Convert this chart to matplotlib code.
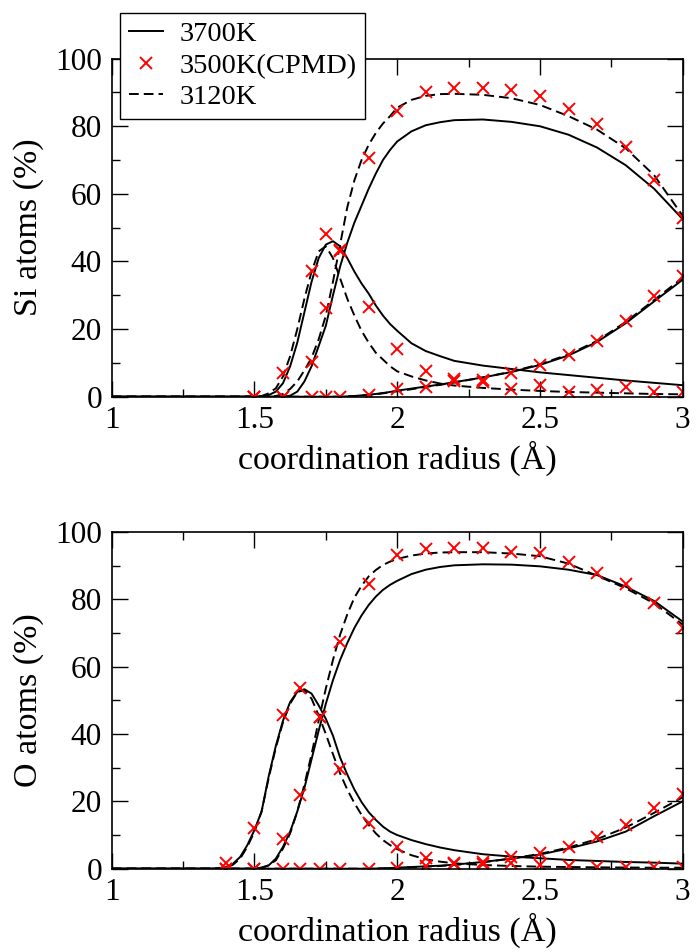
import matplotlib
matplotlib.use("Agg")
import matplotlib.pyplot as plt
from matplotlib.ticker import MultipleLocator

plt.rcParams['font.family'] = ['Liberation Serif', 'DejaVu Serif']

# ---- curves (coordination fractions, %) ----
# Si panel
r_si = [1.0, 1.45, 1.5, 1.525, 1.55, 1.575, 1.6, 1.625, 1.65, 1.675, 1.7, 1.725,
        1.75, 1.775, 1.8, 1.825, 1.85, 1.875, 1.9, 1.925, 1.95, 1.975, 2.0, 2.05,
        2.1, 2.15, 2.2, 2.3, 2.4, 2.5, 2.6, 2.7, 2.8, 2.9, 3.0]

si3_3700 = [0, 0, 0, 0.1, 0.5, 1.5, 4, 9, 16, 25, 34, 41,
            45, 46, 44.5, 41, 37, 33.5, 30.5, 27, 24, 21.5, 19.5, 15.8,
            13.5, 12, 10.6, 9.2, 8.2, 7.2, 6.4, 5.6, 4.8, 4.1, 3.4]
si4_3700 = [0, 0, 0, 0, 0, 0, 0, 0.3, 1.5, 4.5, 9, 15,
            21, 30, 38.5, 45.5, 51.5, 56.5, 61.5, 66, 70, 73, 75.5, 78.5,
            80.3, 81.2, 81.8, 82, 81.3, 80, 77.5, 73.7, 68.5, 61.5, 52.5]
si5_3700 = [0, 0, 0, 0, 0, 0, 0, 0, 0, 0, 0, 0,
            0, 0, 0, 0.1, 0.2, 0.4, 0.6, 0.8, 1.1, 1.4, 1.8, 2.4,
            3.0, 3.6, 4.3, 5.7, 7.3, 9.4, 12.2, 16.2, 21.7, 28.2, 34.6]

si3_3120 = [0, 0, 0, 0.2, 1, 2.5, 6, 12, 20, 29, 37, 43,
            44.5, 41, 35, 29, 24, 19.5, 16, 13, 11, 9, 7.5, 6.0,
            4.8, 3.9, 3.3, 2.6, 2.1, 1.7, 1.4, 1.2, 1.0, 0.8, 0.7]
si4_3120 = [0, 0, 0, 0, 0, 0.2, 0.8, 2.3, 4.5, 7.8, 11.5, 17,
            24, 34, 45, 56, 64, 70, 74.5, 78, 80.8, 83, 85.5, 87.8,
            89, 89.5, 89.6, 89.3, 88.3, 86.3, 83, 79, 73.5, 65.5, 53.5]
si5_3120 = [0, 0, 0, 0, 0, 0, 0, 0, 0, 0, 0, 0,
            0, 0, 0, 0.1, 0.2, 0.3, 0.5, 0.7, 1.0, 1.3, 1.6, 2.2,
            2.9, 3.5, 4.2, 5.7, 7.4, 9.6, 12.5, 16.5, 22.1, 28.6, 35.2]

# O panel
r_o = [1.0, 1.35, 1.375, 1.4, 1.425, 1.45, 1.475, 1.5, 1.525, 1.55, 1.575, 1.6,
       1.625, 1.65, 1.675, 1.7, 1.725, 1.75, 1.775, 1.8, 1.825, 1.85, 1.875,
       1.9, 1.925, 1.95, 1.975, 2.0, 2.05, 2.1, 2.15, 2.2, 2.3, 2.4, 2.5, 2.6,
       2.7, 2.8, 2.9, 3.0]

o1_3700 = [0, 0, 0.1, 0.5, 1.5, 3.5, 7, 11.5, 17, 27.5, 36.5, 44,
           49.5, 52.5, 53.3, 52, 48.5, 44.5, 39.5, 33, 28, 23.5, 19.8,
           16.8, 14.5, 12.5, 11, 10, 8.5, 7.3, 6.3, 5.5, 4.3, 3.6, 3.1, 2.6,
           2.3, 2.0, 1.8, 1.5]
o2_3700 = [0, 0, 0, 0, 0, 0, 0, 0, 0.3, 1, 3, 6.5,
           11, 17, 24, 32.5, 41, 49, 56, 62, 67, 71.5, 75.2,
           78.3, 80.8, 82.8, 84.3, 85.5, 87.5, 88.8, 89.6, 90.1, 90.4, 90.3, 89.8, 88.8,
           87.2, 83.8, 79.5, 73.4]
o3_3700 = [0, 0, 0, 0, 0, 0, 0, 0, 0, 0, 0, 0,
           0, 0, 0, 0, 0, 0, 0, 0, 0, 0, 0,
           0, 0.05, 0.1, 0.2, 0.3, 0.5, 0.7, 0.9, 1.2, 2.0, 3.0, 4.2, 6.0,
           8.1, 11.0, 15.6, 20.0]

o1_3120 = [0, 0, 0.1, 0.3, 1.2, 3, 6.5, 11, 17, 27, 36, 43.5,
           49, 52.5, 53, 50.5, 45.5, 40, 34, 28.3, 23.5, 19.5, 16,
           13, 10.5, 8.5, 7, 5.8, 4.0, 2.8, 2.1, 1.6, 1.1, 0.8, 0.6, 0.5,
           0.4, 0.35, 0.3, 0.3]
o2_3120 = [0, 0, 0, 0, 0, 0, 0, 0, 0.3, 1, 2.5, 6,
           10.5, 17, 25, 34, 44, 53.5, 62, 69.5, 75.5, 80.5, 84,
           86.8, 88.7, 90.2, 91.2, 92, 93, 93.6, 93.9, 94.0, 94.0, 93.6, 92.8, 90.6,
           87.0, 83.3, 78.8, 72.5]
o3_3120 = [0, 0, 0, 0, 0, 0, 0, 0, 0, 0, 0, 0,
           0, 0, 0, 0, 0, 0, 0, 0, 0, 0, 0,
           0, 0.05, 0.1, 0.15, 0.2, 0.4, 0.6, 0.8, 1.1, 1.9, 3.0, 4.4, 6.3,
           8.8, 12.2, 16.6, 21.2]

# ---- CPMD points at 3500K ----
r_si_cpmd = [1.5, 1.6, 1.7, 1.75, 1.8, 1.9, 2.0, 2.1, 2.2, 2.3, 2.4, 2.5,
             2.6, 2.7, 2.8, 2.9, 3.0]
si3_cpmd = [0, 7.1, 37.1, 48.0, 43.5, 26.5, 14.1, 7.7, 5.3, 4.3, 2.4, 3.4,
            1.4, 1.9, 2.9, 1.4, 1.4]
si4_cpmd = [0, 0, 10.4, 26.2, 43.0, 70.5, 84.6, 90.0, 91.2, 91.2, 90.8, 89.0,
            85.1, 80.8, 73.9, 64.1, 52.9]
si5_cpmd = [0, 0, 0, 0, 0, 0.6, 2.2, 3.0, 4.6, 5.0, 7.1, 9.4,
            12.2, 16.5, 22.5, 29.7, 35.6]

r_o_cpmd = [1.4, 1.5, 1.6, 1.66, 1.73, 1.8, 1.9, 2.0, 2.1, 2.2, 2.3, 2.4,
            2.5, 2.6, 2.7, 2.8, 2.9, 3.0]
o1_cpmd = [1.6, 12.0, 45.6, 53.6, 45.1, 29.5, 13.5, 6.5, 3.1, 1.6, 1.5, 1.8,
           1.2, 0.8, 0.6, 0.6, 0.5, 0.5]
o2_cpmd = [0, 0, 8.7, 21.9, 45.1, 67.4, 84.5, 93.2, 94.9, 95.2, 95.2, 94.2,
           93.7, 91.0, 87.9, 84.6, 79.0, 71.4]
o3_cpmd = [0, 0, 0, 0, 0, 0, 0, 0.3, 0.8, 1.3, 2.1, 3.6,
           4.6, 6.5, 9.5, 13.0, 17.9, 22.2]

labels = ['3700K', '3500K(CPMD)', '3120K']

fig = plt.figure(figsize=(6.96, 9.52), dpi=100)
ax1 = fig.add_axes([0.1605, 0.5833, 0.8204, 0.3551])
ax2 = fig.add_axes([0.1605, 0.0875, 0.8204, 0.3537])

lw = 1.4
dash = (0, (5, 2.6))
mk = dict(ls='none', marker='x', color='#ff0000', ms=9, mew=1.4)


def draw(ax, r, solid, dashed, rc, pts, ylabel):
    for s in solid:
        h1, = ax.plot(r, s, color='black', lw=lw)
    for d in dashed:
        h3, = ax.plot(r, d, color='black', lw=lw, ls=dash)
    for p in pts:
        h2, = ax.plot(rc, p, **mk)
    ax.set_xlim(1, 3)
    ax.set_ylim(0, 100)
    ax.xaxis.set_major_locator(MultipleLocator(0.5))
    ax.xaxis.set_minor_locator(MultipleLocator(0.25))
    ax.yaxis.set_major_locator(MultipleLocator(20))
    ax.yaxis.set_minor_locator(MultipleLocator(10))
    ax.xaxis.set_major_formatter(plt.FuncFormatter(lambda v, p: f'{v:g}'))
    ax.tick_params(which='both', direction='in', top=True, right=True,
                   labelsize=22.5, width=1.0)
    ax.tick_params(which='major', length=11.5)
    ax.tick_params(which='minor', length=5.8)
    ax.tick_params(axis='x', pad=7)
    ax.tick_params(axis='y', pad=7)
    for sp in ax.spines.values():
        sp.set_linewidth(1.2)
    ax.set_xlabel('coordination radius (Å)', fontsize=24.5, labelpad=4)
    ax.set_ylabel(ylabel, fontsize=24.5, labelpad=8)
    return h1, h2, h3


handles = draw(ax1, r_si, [si3_3700, si4_3700, si5_3700],
               [si3_3120, si4_3120, si5_3120], r_si_cpmd,
               [si3_cpmd, si4_cpmd, si5_cpmd], 'Si atoms (%)')
draw(ax2, r_o, [o1_3700, o2_3700, o3_3700],
     [o1_3120, o2_3120, o3_3120], r_o_cpmd,
     [o1_cpmd, o2_cpmd, o3_cpmd], 'O atoms (%)')

leg = fig.legend(handles, labels, loc='upper left',
                 bbox_to_anchor=(120 / 696, 1 - 12.7 / 952),
                 borderaxespad=0, fontsize=20.5, frameon=True, fancybox=False,
                 edgecolor='black', framealpha=1, borderpad=0.3,
                 labelspacing=0.2, handlelength=1.2, handletextpad=0.6)
leg.get_frame().set_linewidth(1.0)

fig.savefig('out.png', dpi=100)
